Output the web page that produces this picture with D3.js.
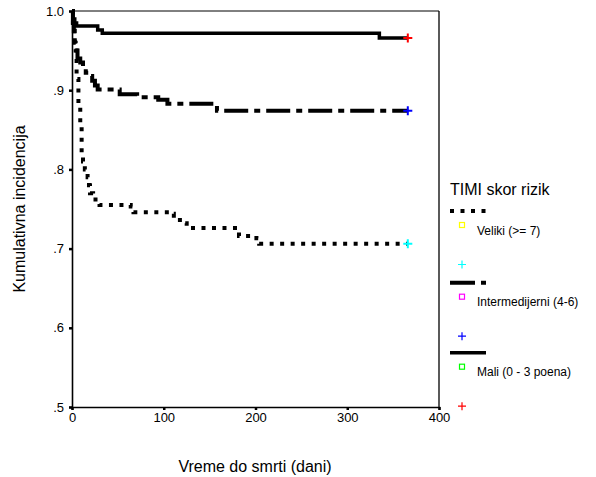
<!DOCTYPE html>
<html><head><meta charset="utf-8">
<script src="https://cdn.jsdelivr.net/npm/d3@7"></script>
<style>body{margin:0;background:#fff}svg{display:block}text{font-family:"Liberation Sans",Arial,sans-serif}</style>
</head><body>
<svg id="c" width="596" height="477"></svg>
<script>
const xTicks = [0,100,200,300,400];
const yTicks = [0.5,0.6,0.7,0.8,0.9,1.0];
const seriesNames = ["Veliki (>= 7)","Intermedijerni (4-6)","Mali (0 - 3 poena)"];
const velikiT = [0,1,3,5,7,9,10.5,12,14,17,18.5,19.6,23,30,64,67,110,111,122,125,181,182,201,204,366];
const velikiV = [1.0,0.975,0.955,0.914,0.88,0.855,0.82,0.81,0.80,0.79,0.78,0.77,0.762,0.755,0.753,0.746,0.744,0.736,0.732,0.726,0.722,0.716,0.713,0.706,0.706];
const interT = [0,1,2,3,4,6,9,12,15,18,22,25,28,52,71,94,104,158,366];
const interV = [1.0,0.985,0.97,0.96,0.95,0.94,0.935,0.928,0.922,0.918,0.912,0.906,0.901,0.895,0.891,0.888,0.883,0.874,0.874];
const maliT = [0,1,3,5,28,33,332,335,366];
const maliV = [1.0,0.99,0.985,0.981,0.976,0.972,0.972,0.966,0.966];
const censorT = [366,366,366];
const censorV = [0.706,0.874,0.966];
const legendSquareColors = ["#ffff00","#ff00ff","#00ff00"];
const censorColors = ["#00ffff","#0000ff","#ff0000"];
const dashes = ["4,6.5","24,6,6,6",null];

const svg = d3.select("#c");
const x = d3.scaleLinear().domain([0,400]).range([72,439]);
const y = d3.scaleLinear().domain([0.5,1.0]).range([407,11]);

// frame top/right
svg.append("line").attr("x1",72).attr("x2",x(400)).attr("y1",y(1)).attr("y2",y(1)).attr("stroke","#000").attr("stroke-width",1);
svg.append("line").attr("x1",x(400)).attr("x2",x(400)).attr("y1",y(1)).attr("y2",y(0.5)).attr("stroke","#000").attr("stroke-width",1.3);

const fmtY = d => d===1 ? "1.0" : d3.format(".1f")(d).replace(/^0/,"");
const ya = svg.append("g").attr("transform","translate(72,0)")
  .call(d3.axisLeft(y).tickValues(yTicks).tickFormat(fmtY).tickSize(3).tickPadding(5));
const xa = svg.append("g").attr("transform",`translate(0,${y(0.5)})`)
  .call(d3.axisBottom(x).tickValues(xTicks).tickSize(3).tickPadding(3));
[ya,xa].forEach(g=>{
  g.select(".domain").attr("stroke","#000").attr("stroke-width",1.6);
  g.selectAll(".tick line").attr("stroke","#000").attr("stroke-width",2.5);
  g.selectAll("text").attr("font-size",13).attr("fill","#000").style("font-family","Liberation Sans, Arial, sans-serif");
});

const data = [
  d3.zip(velikiT,velikiV),
  d3.zip(interT,interV),
  d3.zip(maliT,maliV)
];
const line = d3.line().x(d=>x(d[0])).y(d=>y(d[1])).curve(d3.curveStepAfter);
const widths = [4,4,3.5];
data.forEach((s,i)=>{
  const p = svg.append("path").attr("d",line(s)).attr("fill","none").attr("stroke","#000")
    .attr("stroke-width",widths[i]);
  if(dashes[i]) p.attr("stroke-dasharray",dashes[i]);
});
// censor crosses
censorT.forEach((t,i)=>{
  const cx = x(t), cy = y(censorV[i]);
  svg.append("path").attr("d",`M${cx-4.5},${cy}H${cx+4.5}M${cx},${cy-4.5}V${cy+4.5}`)
    .attr("stroke",censorColors[i]).attr("stroke-width",2).attr("fill","none");
});

// axis titles
svg.append("text").attr("x",255).attr("y",472).attr("text-anchor","middle").attr("font-size",16).text("Vreme do smrti (dani)");
svg.append("text").attr("transform","translate(25,209) rotate(-90)").attr("text-anchor","middle").attr("font-size",16).text("Kumulativna incidencija");

// legend
const lg = svg.append("g");
lg.append("text").attr("x",450).attr("y",195).attr("font-size",16).text("TIMI skor rizik");
const baseY = [211, 282.7, 352.7];
seriesNames.forEach((n,i)=>{
  const by = baseY[i];
  const l = lg.append("line").attr("x1",450).attr("x2",486).attr("y1",by).attr("y2",by)
    .attr("stroke","#000").attr("stroke-width",i==2?3.5:4);
  if(i==0) l.attr("stroke-dasharray","4,6.5");
  if(i==1) l.attr("stroke-dasharray","25,6,6,6");
  lg.append("rect").attr("x",459.5).attr("y",by+11.5).attr("width",5).attr("height",5)
    .attr("fill","none").attr("stroke",legendSquareColors[i]).attr("stroke-width",1.2);
  lg.append("text").attr("x",477).attr("y",by+23.5).attr("font-size",12).text(n);
  const py = by+53.5;
  lg.append("path").attr("d",`M${458},${py}H${466}M${462},${py-4}V${py+4}`)
    .attr("stroke",censorColors[i]).attr("stroke-width",1.2).attr("fill","none");
});
</script>
</body></html>
